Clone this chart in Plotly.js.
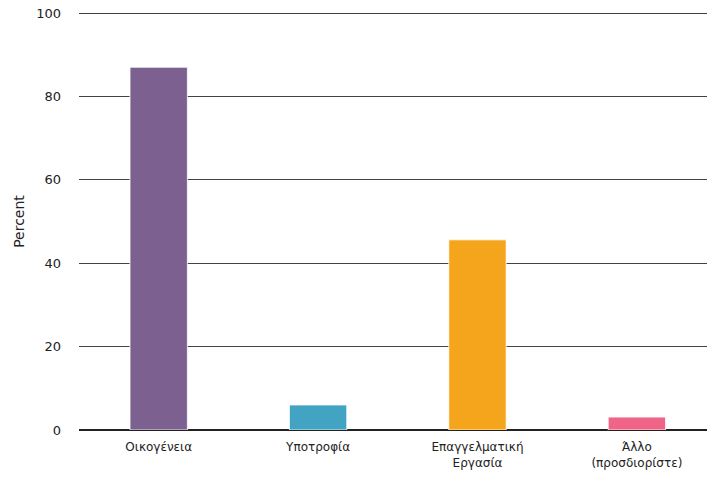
<!DOCTYPE html>
<html>
<head>
<meta charset="utf-8">
<script src="https://cdn.plot.ly/plotly-3.0.1.min.js"></script>
<style>html,body{margin:0;padding:0;background:#fff;}#chart{width:707px;height:479px;}</style>
</head>
<body>
<div id="chart"></div>
<script>
var categories = ["Οικογένεια", "Υποτροφία", "Επαγγελματική<br>Εργασία", "Άλλο<br>(προσδιορίστε)"];
var percents = [87, 6, 45.6, 3.1];
var barColors = ["#7c6190", "#42a3c3", "#f5a51b", "#f06488"];
var yTicks = [0, 20, 40, 60, 80, 100];

var trace = {
  type: "bar",
  x: categories,
  y: percents,
  width: 0.36,
  marker: {color: barColors, line: {color: "rgba(255,255,255,0.8)", width: 1}},
  hoverinfo: "none"
};

var layout = {
  width: 707, height: 479,
  margin: {l: 79, r: 0, t: 13, b: 49},
  paper_bgcolor: "#fff", plot_bgcolor: "#fff",
  showlegend: false,
  font: {family: "DejaVu Sans, Verdana, sans-serif", color: "#222"},
  xaxis: {
    range: [-0.5, 3.44],
    showgrid: false, showline: false, zeroline: false,
    ticks: "", tickfont: {size: 12, color: "#222"},
    ticklabelstandoff: 8
  },
  yaxis: {
    range: [0, 100],
    tickvals: yTicks,
    ticktext: yTicks.map(String),
    showgrid: true, gridcolor: "#444", gridwidth: 1,
    zeroline: true, zerolinecolor: "#222", zerolinewidth: 2,
    showline: false, ticks: "",
    tickfont: {size: 13, color: "#222"},
    ticklabelstandoff: 17,
    title: {text: "Percent", font: {size: 14, color: "#222"}, standoff: 8}
  },
  shapes: [{type: "line", xref: "paper", yref: "y", x0: 0, x1: 1, y0: 100, y1: 100, line: {color: "#000", width: 1.5}}]
};

Plotly.newPlot("chart", [trace], layout, {staticPlot: true, displayModeBar: false});
</script>
</body>
</html>
